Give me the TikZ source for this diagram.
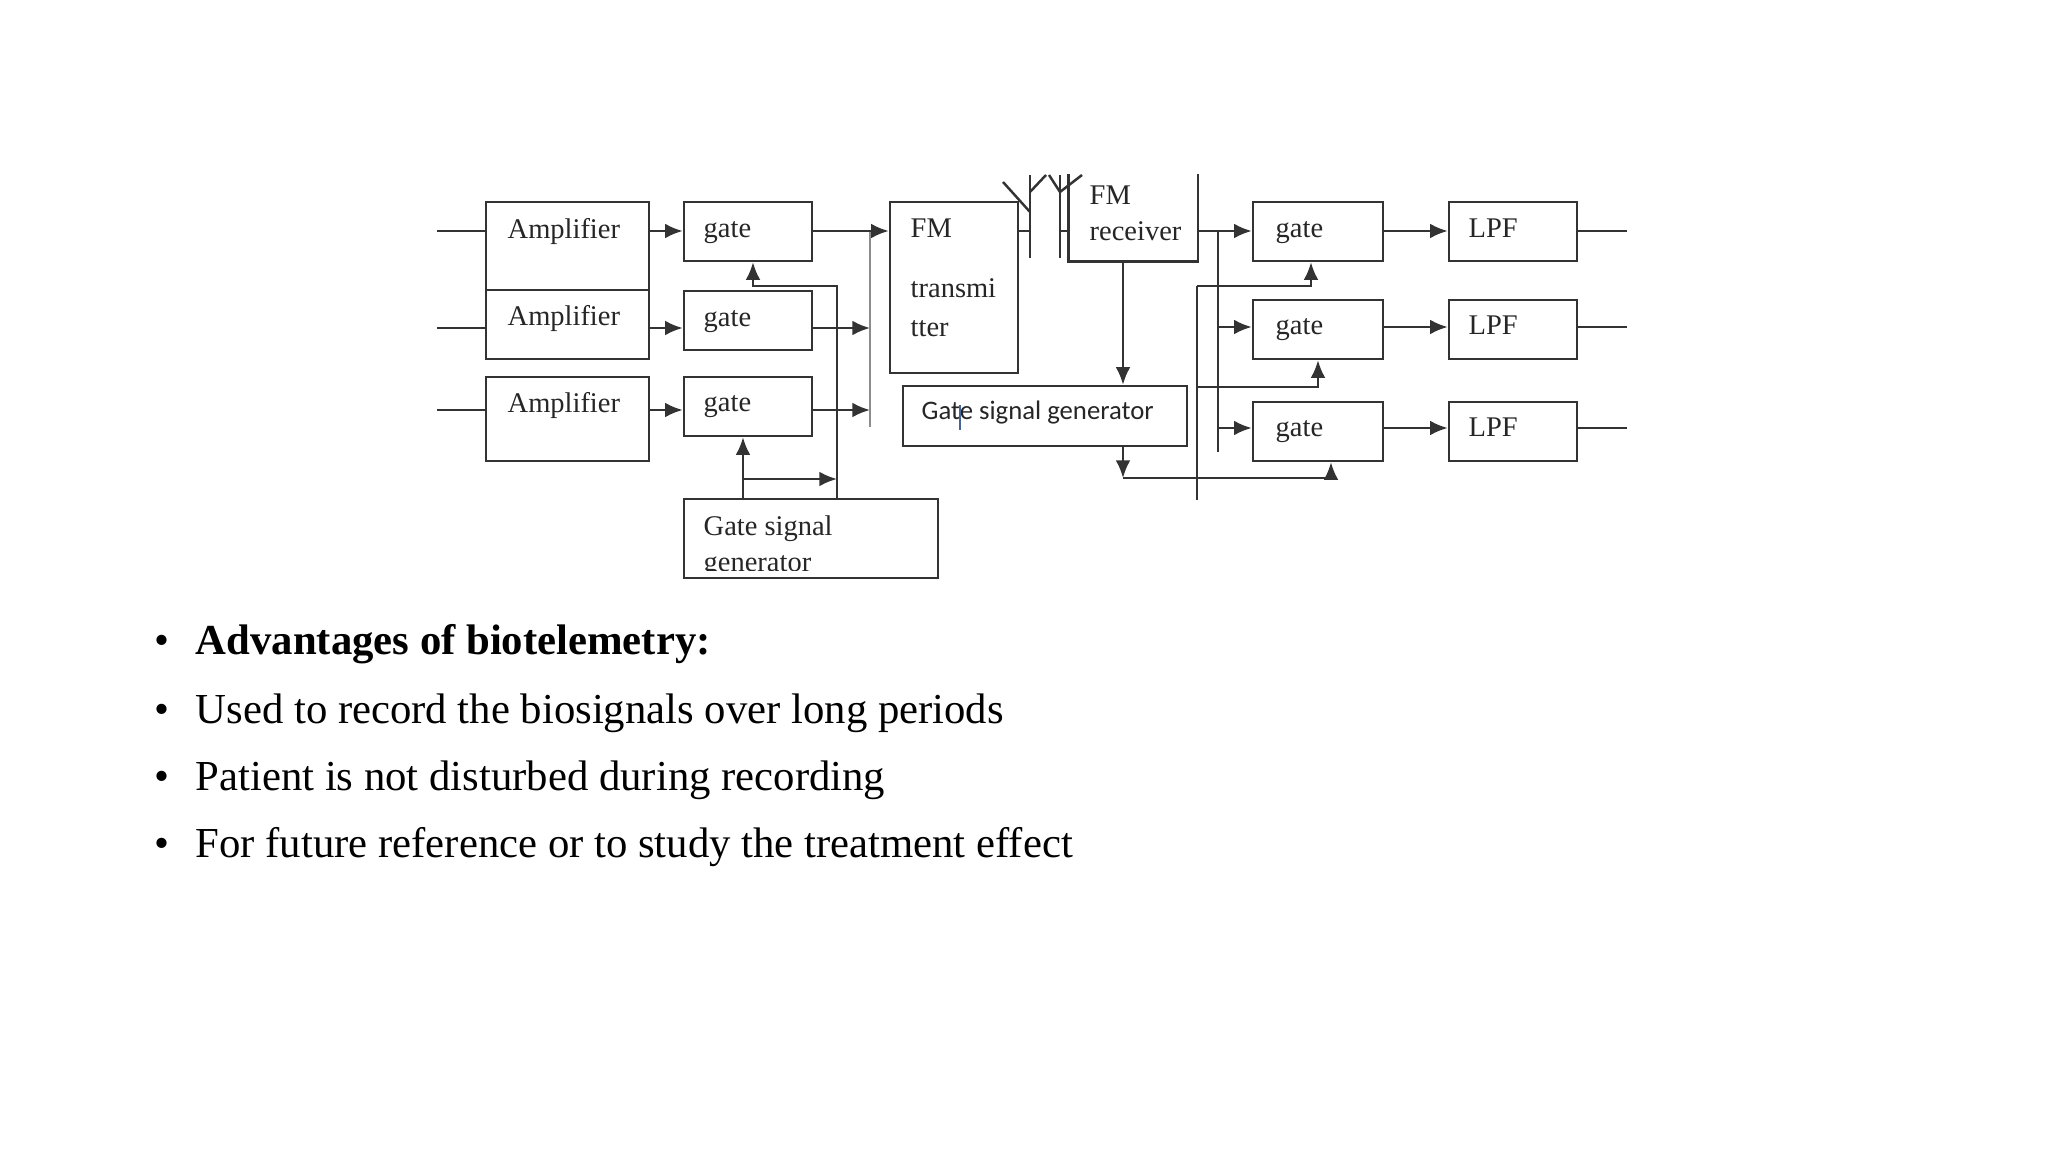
\documentclass[tikz,border=0pt]{standalone}
\usepackage{fontspec}
\setmainfont{Liberation Serif}
\newfontfamily\calib{Carlito}
\usetikzlibrary{arrows.meta}
\definecolor{cursorc}{RGB}{70,100,150}
\begin{document}
\begin{tikzpicture}[x=0.01cm,y=-0.01cm,
 box/.style={draw=black!80, line width=0.7pt, inner sep=0pt},
 wire/.style={draw=black!80, line width=0.7pt},
 arr/.style={wire, -{Latex[length=5pt,width=4.2pt]}},
 lbl/.style={anchor=base west, inner sep=0pt, font=\fontsize{8.1}{9}\selectfont, text=black!85},
 bul/.style={anchor=base west, inner sep=0pt, font=\fontsize{12.15}{14}\selectfont},
]
\useasboundingbox[fill=white] (0,0) rectangle (2048,1152);

% ---- boxes
\node[box, minimum width=1.63cm, minimum height=0.88cm] (amp1) at (567.5,246) {};
\node[box, minimum width=1.63cm, minimum height=0.69cm] (amp2) at (567.5,324.5) {};
\node[box, minimum width=1.63cm, minimum height=0.84cm] (amp3) at (567.5,419) {};
\node[box, minimum width=1.28cm, minimum height=0.59cm] (g1) at (748,231.5) {};
\node[box, minimum width=1.28cm, minimum height=0.59cm] (g2) at (748,320.5) {};
\node[box, minimum width=1.28cm, minimum height=0.59cm] (g3) at (748,406.5) {};
\node[box, minimum width=2.54cm, minimum height=0.79cm] (gsgL) at (811,538.5) {};
\node[box, minimum width=1.28cm, minimum height=1.71cm] (fmt) at (954,287.5) {};
\node[inner sep=0pt, minimum width=1.28cm, minimum height=0.86cm] (fmr) at (1133,218) {};
\node[box, minimum width=2.84cm, minimum height=0.60cm] (gsgR) at (1045,416) {};
\node[box, minimum width=1.30cm, minimum height=0.59cm] (gR1) at (1318,231.5) {};
\node[box, minimum width=1.30cm, minimum height=0.59cm] (gR2) at (1318,329.5) {};
\node[box, minimum width=1.30cm, minimum height=0.59cm] (gR3) at (1318,431.5) {};
\node[box, minimum width=1.28cm, minimum height=0.59cm] (lpf1) at (1513,231.5) {};
\node[box, minimum width=1.28cm, minimum height=0.59cm] (lpf2) at (1513,329.5) {};
\node[box, minimum width=1.28cm, minimum height=0.59cm] (lpf3) at (1513,431.5) {};
\draw[wire] (fmr.north west) -- (fmr.south west) -- (fmr.south east) -- (fmr.north east);

% ---- texts in the diagram
\node[lbl] (tamp1) at (507,239) {Amplifier};
\node[lbl] (tamp2) at (507,326) {Amplifier};
\node[lbl] (tamp3) at (507,413) {Amplifier};
\node[lbl] (tg1) at (703,238) {gate};
\node[lbl] (tg2) at (703,327) {gate};
\node[lbl] (tg3) at (703,412) {gate};
\node[lbl] (tgl1) at (703,535) {Gate signal};
\begin{scope}
\clip (684,540) rectangle (938,571);
\node[lbl] (tgl2) at (703,571) {generator};
\end{scope}
\node[lbl] (tfm1) at (910,238) {FM};
\node[lbl] (tfm2) at (910,298) {transmi};
\node[lbl] (tfm3) at (910,337) {tter};
\node[lbl] (trc1) at (1089,205) {FM};
\node[lbl] (trc2) at (1089,241) {receiver};
\node[lbl, font=\calib\fontsize{7.6}{9}\selectfont] (tgr) at (921,420) {Gate signal generator};
\draw[draw=cursorc, line width=0.5pt] (960,405) -- (960,430);
\node[lbl] (tgr1) at (1275,238) {gate};
\node[lbl] (tgr2) at (1275,335) {gate};
\node[lbl] (tgr3) at (1275,437) {gate};
\node[lbl] (tl1) at (1468,238) {LPF};
\node[lbl] (tl2) at (1468,335) {LPF};
\node[lbl] (tl3) at (1468,437) {LPF};

% ---- left side connectors
\coordinate (in1) at (437,231);
\coordinate (in2) at (437,328);
\coordinate (in3) at (437,410);
\draw[wire] (in1) -- (in1 -| amp1.west);
\draw[wire] (in2) -- (in2 -| amp2.west);
\draw[wire] (in3) -- (in3 -| amp3.west);
\draw[arr] (in1 -| amp1.east) -- (in1 -| g1.west);
\draw[arr] (in2 -| amp2.east) -- (in2 -| g2.west);
\draw[arr] (in3 -| amp3.east) -- (in3 -| g3.west);
\draw[arr] (in1 -| g1.east) -- (in1 -| fmt.west);
\coordinate (busLt) at (870,232);
\coordinate (busLb) at (870,427);
\draw[wire, draw=black!45] (busLt) -- (busLb);
\draw[arr] (in2 -| g2.east) -- (in2 -| busLt);
\draw[arr] (in3 -| g3.east) -- (in3 -| busLt);

\coordinate (cL1) at (743,0);
\coordinate (cL2) at (837,0);
\draw[arr] (cL1 |- gsgL.north) -- (cL1 |- g3.south);
\coordinate (br) at (743,479);
\draw[arr] (br) -- (br -| cL2);
\coordinate (k1) at (837,286);
\coordinate (k2) at (753,286);
\draw[arr] (cL2 |- gsgL.north) -- (k1) -- (k2) -- (k2 |- g1.south);

% ---- antennas
\coordinate (ant1) at (1030,175);
\coordinate (ant1b) at (1030,258);
\coordinate (ant2) at (1060,175);
\coordinate (ant2b) at (1060,258);
\draw[wire] (in1 -| fmt.east) -- (in1 -| ant1);
\draw[wire] (ant1) -- (ant1b);
\draw[wire] (ant2) -- (ant2b);
\coordinate (d1) at (1003,182);
\coordinate (d2) at (1030,212);
\coordinate (d3) at (1030,192);
\coordinate (d4) at (1046,175);
\coordinate (d5) at (1049,175);
\coordinate (d6) at (1060,192);
\coordinate (d7) at (1082,175);
\draw[wire] (d1) -- (d2);
\draw[wire] (d3) -- (d4);
\draw[wire] (d5) -- (d6) -- (d7);
\draw[wire] (in1 -| ant2) -- (in1 -| fmr.west);

% ---- right side connectors
\coordinate (r1) at (1218,231);
\coordinate (r2) at (1218,327);
\coordinate (r3) at (1218,428);
\coordinate (busRb) at (1218,452);
\draw[arr] (in1 -| fmr.east) -- (r1 -| gR1.west);
\draw[wire] (r1) -- (busRb);
\draw[arr] (r2) -- (r2 -| gR2.west);
\draw[arr] (r3) -- (r3 -| gR3.west);
\draw[arr] (r1 -| gR1.east) -- (r1 -| lpf1.west);
\draw[arr] (r2 -| gR2.east) -- (r2 -| lpf2.west);
\draw[arr] (r3 -| gR3.east) -- (r3 -| lpf3.west);
\coordinate (oc) at (1627,0);
\draw[wire] (r1 -| lpf1.east) -- (r1 -| oc);
\draw[wire] (r2 -| lpf2.east) -- (r2 -| oc);
\draw[wire] (r3 -| lpf3.east) -- (r3 -| oc);

\coordinate (v1) at (1123,0);
\draw[arr] (v1 |- fmr.south) -- (v1 |- gsgR.north);
\coordinate (h3) at (1123,478);
\coordinate (h3r) at (1331,478);
\draw[arr] (v1 |- gsgR.south) -- (h3);
\draw[arr] (h3) -- (h3r) -- (h3r |- gR3.south);
\coordinate (ct) at (1197,286);
\coordinate (cb) at (1197,500);
\draw[wire] (ct) -- (cb);
\coordinate (c1) at (1311,286);
\draw[arr] (ct) -- (c1) -- (c1 |- gR1.south);
\coordinate (c2a) at (1197,387);
\coordinate (c2) at (1318,387);
\draw[arr] (c2a) -- (c2) -- (c2 |- gR2.south);

% ---- bullet list
\node[bul] (b1) at (154,655) {•};
\node[bul] (t1) at (195,655) {\bfseries Advantages of biotelemetry:};
\node[bul] (b2) at (154,723) {•};
\node[bul] (t2) at (195,723) {Used to record the biosignals over long periods};
\node[bul] (b3) at (154,790) {•};
\node[bul] (t3) at (195,790) {Patient is not disturbed during recording};
\node[bul] (b4) at (154,857) {•};
\node[bul] (t4) at (195,857) {For future reference or to study the treatment effect};
\end{tikzpicture}
\end{document}
